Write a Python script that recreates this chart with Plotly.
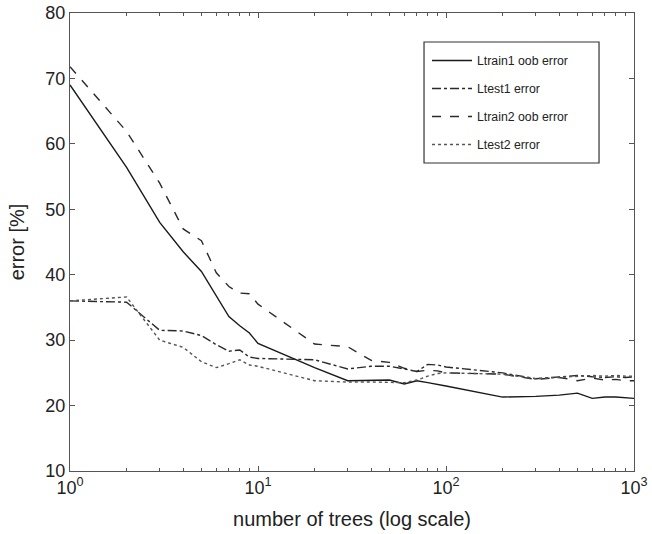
import plotly.graph_objects as go

n_trees = [1, 2, 3, 4, 5, 6, 7, 8, 9, 10, 20, 30, 40, 50, 60, 70, 80, 90, 100,
           200, 300, 400, 500, 600, 700, 800, 900, 1000]

ltrain1_oob = [69.0, 56.4, 48.0, 43.5, 40.5, 36.8, 33.6, 32.2, 31.1, 29.5, 25.8, 23.8, 23.9, 23.9,
               23.3, 23.8, 23.5, 23.2, 23.0, 21.3, 21.4, 21.6, 21.9, 21.1, 21.3, 21.3, 21.2, 21.1]
ltest1 = [36.0, 35.8, 31.5, 31.4, 30.7, 29.3, 28.3, 28.5, 27.4, 27.2, 27.0, 25.6, 26.0, 26.0,
          25.6, 25.2, 26.3, 26.2, 25.9, 25.0, 24.1, 24.4, 24.6, 24.4, 24.3, 24.4, 24.3, 24.4]
ltrain2_oob = [71.8, 61.9, 54.0, 47.0, 45.2, 40.3, 38.2, 37.2, 37.1, 35.5, 29.4, 29.0, 26.9, 26.6,
               25.7, 25.2, 25.4, 25.3, 25.0, 24.8, 24.0, 24.3, 23.8, 24.2, 23.9, 24.0, 23.8, 23.8]
ltest2 = [36.0, 36.6, 30.0, 28.9, 26.7, 25.8, 26.4, 27.0, 26.2, 26.0, 23.8, 23.6, 23.6, 23.5,
          23.5, 23.9, 24.5, 24.9, 25.0, 24.8, 24.1, 24.3, 24.5, 24.6, 24.5, 24.6, 24.5, 24.5]

series_names = ["Ltrain1 oob error", "Ltest1 error", "Ltrain2 oob error", "Ltest2 error"]
series_values = [ltrain1_oob, ltest1, ltrain2_oob, ltest2]
series_dash = ["solid", "dashdot", "dash", "dot"]
series_color = ["#1a1a1a", "#2a2a2a", "#2a2a2a", "#555555"]

x_tickvals = [1, 10, 100, 1000]
x_ticktext = ["10<sup>0</sup>", "10<sup>1</sup>", "10<sup>2</sup>", "10<sup>3</sup>"]
x_minor = [m * d for d in [1, 10, 100] for m in range(2, 10)]
y_tickvals = [10, 20, 30, 40, 50, 60, 70, 80]

FONT = "Liberation Sans, Arial, sans-serif"

fig = go.Figure()
for i, (name, vals, dash, col) in enumerate(zip(series_names, series_values, series_dash, series_color)):
    fig.add_trace(go.Scatter(
        x=n_trees, y=vals, mode="lines", name=name, legendgroup=f"g{i}",
        line=dict(color=col, width=1.4, dash=dash),
    ))

axis_common = dict(
    showline=True, linecolor="#555555", linewidth=1.3, mirror="allticks",
    ticks="inside", ticklen=5, tickcolor="#555555", tickwidth=1,
    showgrid=False, zeroline=False, automargin=False, ticklabeloverflow="allow",
    tickfont=dict(family=FONT, size=18, color="#222222"),
)

fig.update_xaxes(
    type="log", range=[0, 3], tickvals=x_tickvals, ticktext=x_ticktext,
    minor=dict(ticks="inside", ticklen=3, tickcolor="#555555", tickvals=x_minor, showgrid=False),
    title=dict(text="number of trees (log scale)",
               font=dict(family=FONT, size=20, color="#222222")),
    **axis_common,
)
fig.update_yaxes(
    range=[10, 80], tickvals=y_tickvals,
    title=dict(text="error [%]",
               font=dict(family=FONT, size=20, color="#222222")),
    **axis_common,
)

# legend frame (wider than plotly's auto-sized box, as in the reference)
fig.add_shape(type="rect", xref="paper", yref="paper",
              x0=0.6277, x1=0.938, y0=0.6725, y1=0.9367,
              line=dict(color="#333333", width=1.2), fillcolor="white", layer="above")

fig.update_layout(
    width=652, height=534,
    margin=dict(l=70, r=18, t=13, b=63),
    plot_bgcolor="white", paper_bgcolor="white",
    showlegend=True,
    legend=dict(
        x=0.633, y=0.928, xanchor="left", yanchor="top",
        bgcolor="rgba(0,0,0,0)", borderwidth=0,
        font=dict(family=FONT, size=12.3, color="#222222"),
        traceorder="grouped", tracegroupgap=9,
        itemwidth=40,
    ),
)

fig.write_html("out.html", config={"displayModeBar": False},
               post_script="document.body.style.margin='0';")
